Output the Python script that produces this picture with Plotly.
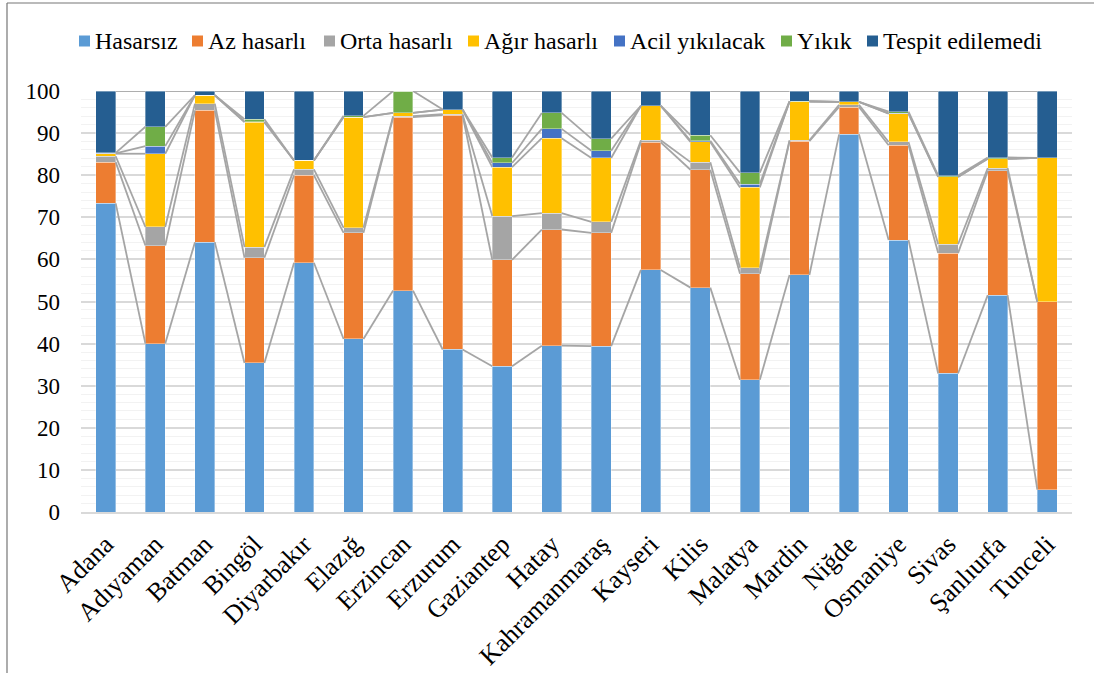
import numpy as np
import plotly.graph_objects as go

provinces = ["Adana", "Adıyaman", "Batman", "Bingöl", "Diyarbakır", "Elazığ", "Erzincan",
             "Erzurum", "Gaziantep", "Hatay", "Kahramanmaraş", "Kayseri", "Kilis", "Malatya",
             "Mardin", "Niğde", "Osmaniye", "Sivas", "Şanlıurfa", "Tunceli"]

hasarsiz = [73.3, 40.0, 64.1, 35.4, 59.2, 41.1, 52.6, 38.6, 34.6, 39.5, 39.4, 57.5, 53.3, 31.4, 56.3, 89.7, 64.6, 32.9, 51.5, 5.3]
az_hasarli = [9.8, 23.3, 31.3, 25.0, 20.8, 25.2, 41.2, 55.7, 25.3, 27.6, 26.9, 30.3, 28.0, 25.2, 31.8, 6.5, 22.5, 28.6, 29.5, 44.6]
orta_hasarli = [1.4, 4.4, 1.6, 2.5, 1.4, 1.2, 0.2, 0.2, 10.4, 3.9, 2.6, 0.5, 1.8, 1.4, 0.2, 0.5, 0.8, 2.1, 0.7, 0.0]
agir_hasarli = [0.6, 17.4, 2.0, 29.7, 2.1, 26.3, 0.8, 1.1, 11.6, 17.8, 15.2, 8.2, 4.8, 19.1, 9.2, 0.7, 6.7, 16.0, 2.2, 34.2]
acil_yikilacak = [0.1, 1.8, 0.0, 0.1, 0.0, 0.0, 0.0, 0.0, 1.0, 2.2, 1.7, 0.0, 0.3, 0.8, 0.0, 0.0, 0.1, 0.0, 0.0, 0.0]
yikik = [0.1, 4.6, 0.0, 0.6, 0.0, 0.3, 5.2, 0.0, 1.3, 3.8, 2.9, 0.0, 1.3, 2.7, 0.1, 0.0, 0.4, 0.3, 0.3, 0.0]
tespit_edilemedi = [14.7, 8.5, 1.0, 6.7, 16.5, 5.9, 0.0, 4.4, 15.8, 5.2, 11.3, 3.5, 10.5, 19.4, 2.4, 2.6, 4.9, 20.1, 15.8, 15.9]

series_names = ["Hasarsız", "Az hasarlı", "Orta hasarlı", "Ağır hasarlı", "Acil yıkılacak", "Yıkık", "Tespit edilemedi"]
series_values = [hasarsiz, az_hasarli, orta_hasarli, agir_hasarli, acil_yikilacak, yikik, tespit_edilemedi]
colors = ["#5B9BD5", "#ED7D31", "#A5A5A5", "#FFC000", "#4472C4", "#70AD47", "#255E91"]

# legend layout (pixel x of each legend marker)
legend_marker_px = [79, 192, 324, 468, 614, 781, 867]

FONT = "Times New Roman"
bar_w = 0.4
x = np.arange(len(provinces))

fig = go.Figure()

# Series lines (Excel-style) connecting segment tops between adjacent bars
cum = np.zeros(len(provinces))
for vals in series_values:
    cum = cum + np.array(vals)
    lx, ly = [], []
    for i in range(len(provinces) - 1):
        lx += [x[i] + bar_w / 2, x[i + 1] - bar_w / 2, None]
        ly += [cum[i], cum[i + 1], None]
    fig.add_trace(go.Scatter(x=lx, y=ly, mode="lines", line=dict(color="#A5A5A5", width=1.8),
                             showlegend=False, hoverinfo="skip"))

for name, vals, col in zip(series_names, series_values, colors):
    fig.add_trace(go.Bar(x=x, y=vals, name=name, width=bar_w, showlegend=False,
                         marker=dict(color=col, line=dict(color="rgba(255,255,255,0.45)", width=0.8))))

L, R, T, B = 81, 22, 91, 161
W, H = 1094, 673
pw, ph = W - L - R, H - T - B

def px_x(p):
    return (p - L) / pw

def px_y(p):
    return (H - B - p) / ph

shapes = [
    dict(type="line", xref="paper", yref="paper", x0=px_x(7), x1=px_x(1094), y0=px_y(3), y1=px_y(3),
         line=dict(color="#767676", width=1.2)),
    dict(type="line", xref="paper", yref="paper", x0=px_x(7), x1=px_x(7), y0=px_y(3), y1=px_y(673),
         line=dict(color="#767676", width=1.2)),
]
annotations = []
ly_c = 41
for mx, name, col in zip(legend_marker_px, series_names, colors):
    shapes.append(dict(type="rect", xref="paper", yref="paper",
                       x0=px_x(mx), x1=px_x(mx + 11), y0=px_y(ly_c - 5.5), y1=px_y(ly_c + 5.5),
                       fillcolor=col, line=dict(width=0)))
    annotations.append(dict(xref="paper", yref="paper", x=px_x(mx + 14), y=px_y(ly_c),
                            xanchor="left", yanchor="middle", text=name, showarrow=False,
                            font=dict(family=FONT, size=24, color="black")))

fig.update_layout(
    width=W, height=H,
    margin=dict(l=L, r=R, t=T, b=B, autoexpand=False),
    barmode="stack",
    bargap=0.6,
    showlegend=False,
    plot_bgcolor="white", paper_bgcolor="white",
    font=dict(family=FONT, size=24, color="black"),
    xaxis=dict(range=[-0.5, len(provinces) - 0.5], tickvals=list(x), ticktext=provinces,
               tickangle=-45, showgrid=False, showline=True, linecolor="#D9D9D9", linewidth=1.5,
               ticks="", ticklabelstandoff=5,
               tickfont=dict(family=FONT, size=26, color="black"), zeroline=False),
    yaxis=dict(range=[0, 100], dtick=10, showgrid=True, gridcolor="#D9D9D9", gridwidth=1.5,
               minor=dict(dtick=2, showgrid=True, gridcolor="#F2F2F2", gridwidth=1),
               zeroline=False, showline=False, ticks="", ticklabelstandoff=20,
               tickfont=dict(family=FONT, size=23, color="black")),
    shapes=shapes,
    annotations=annotations,
)

fig.write_html("out.html", config={"displayModeBar": False},
               post_script="document.body.style.margin='0';")
